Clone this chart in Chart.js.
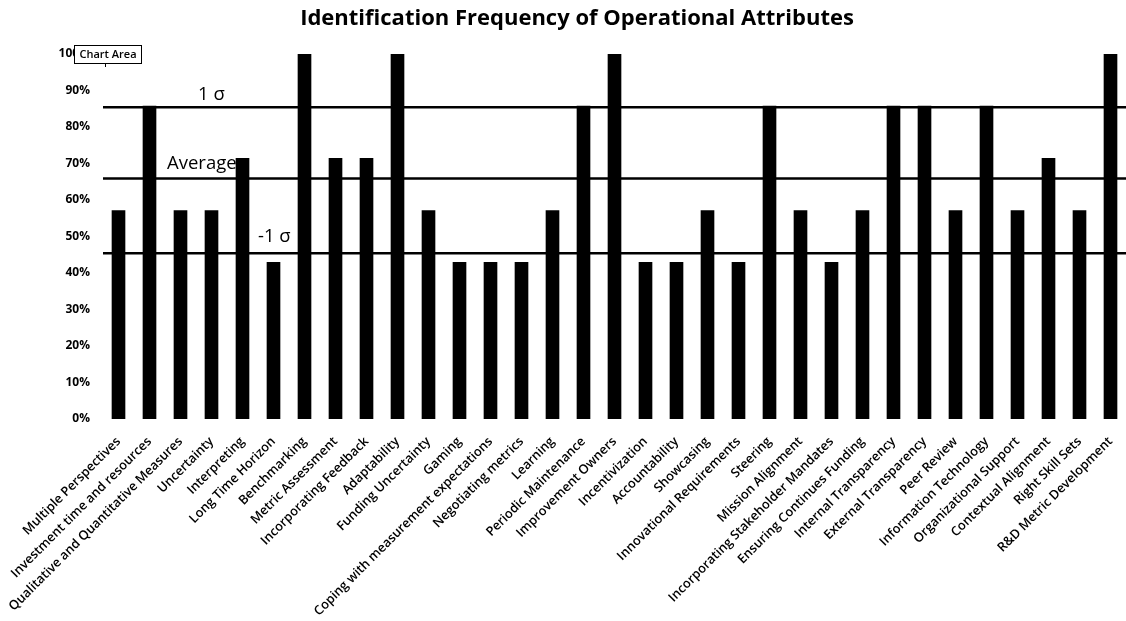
<!DOCTYPE html>
<html>
<head>
<meta charset="utf-8">
<title>Identification Frequency of Operational Attributes</title>
<script src="https://cdn.jsdelivr.net/npm/chart.js@4.4.1/dist/chart.umd.min.js"></script>
<style>
    html, body { margin: 0; padding: 0; background: #fff; }
    #wrap { width: 1126px; height: 621px; }
</style>
</head>
<body>
<div id="wrap"><canvas id="freqChart"></canvas></div>
<script>
// Identification frequency chart

const attributes = [
    'Multiple Perspectives', 'Investment time and resources', 'Qualitative and Quantitative Measures',
    'Uncertainty', 'Interpreting', 'Long Time Horizon', 'Benchmarking', 'Metric Assessment',
    'Incorporating Feedback', 'Adaptability', 'Funding Uncertainty', 'Gaming',
    'Coping with measurement expectations', 'Negotiating metrics', 'Learning', 'Periodic Maintenance',
    'Improvement Owners', 'Incentivization', 'Accountability', 'Showcasing',
    'Innovational Requirements', 'Steering', 'Mission Alignment', 'Incorporating Stakeholder Mandates',
    'Ensuring Continues Funding', 'Internal Transparency', 'External Transparency', 'Peer Review',
    'Information Technology', 'Organizational Support', 'Contextual Alignment', 'Right Skill Sets',
    'R&D Metric Development'
];

// percent of sources identifying each attribute
const frequency = [
    57.1, 85.7, 57.1, 57.1, 71.4, 42.9, 100, 71.4,
    71.4, 100, 57.1, 42.9, 42.9, 42.9, 57.1, 85.7,
    100, 42.9, 42.9, 57.1, 42.9, 85.7, 57.1, 42.9,
    57.1, 85.7, 85.7, 57.1, 85.7, 57.1, 71.4, 57.1,
    100
];

const yTicks = [0, 10, 20, 30, 40, 50, 60, 70, 80, 90, 100];

const refLabels = ['1 σ', 'Average', '-1 σ'];
const refValues = [85.4, 65.9, 45.4];

// label placement for the reference lines (x from plot left, y from line)
const refLabelStyle = [
    { dx: 95, dy: -7 },
    { dx: 64, dy: -9 },
    { dx: 155, dy: -11 }
];

const refLinesPlugin = {
    id: 'refLines',
    afterDatasetsDraw(chart) {
        const ctx = chart.ctx;
        const area = chart.chartArea;
        const yScale = chart.scales.y;
        ctx.save();
        ctx.strokeStyle = '#000';
        ctx.lineWidth = 2.5;
        ctx.fillStyle = '#000';
        ctx.font = '18.5px "Open Sans"';
        ctx.textBaseline = 'alphabetic';
        ctx.textAlign = 'left';
        refValues.forEach((v, i) => {
            const y = yScale.getPixelForValue(v);
            ctx.beginPath();
            ctx.moveTo(area.left, y);
            ctx.lineTo(area.right, y);
            ctx.stroke();
            ctx.fillText(refLabels[i], area.left + refLabelStyle[i].dx, y + refLabelStyle[i].dy);
        });
        ctx.restore();
    }
};

// the little "Chart Area" hover tag left in the screenshot
const chartAreaTag = {
    id: 'chartAreaTag',
    afterDraw(chart) {
        const ctx = chart.ctx;
        ctx.save();
        ctx.fillStyle = '#fff';
        ctx.fillRect(74, 45, 68, 19);
        ctx.strokeStyle = '#000';
        ctx.lineWidth = 1;
        ctx.strokeRect(74.5, 45.5, 67, 18);
        ctx.beginPath();
        ctx.moveTo(105.5, 64);
        ctx.lineTo(105.5, 67);
        ctx.stroke();
        ctx.fillStyle = '#000';
        ctx.font = '600 11px "Open Sans"';
        ctx.textAlign = 'center';
        ctx.textBaseline = 'middle';
        ctx.fillText('Chart Area', 108, 55);
        ctx.restore();
    }
};

document.addEventListener('DOMContentLoaded', function () {
    renderChart();
});

function renderChart() {
    const ctx = document.getElementById('freqChart').getContext('2d');

    new Chart(ctx, {
        type: 'bar',
        data: {
            labels: attributes,
            datasets: [{
                label: 'Identification Frequency',
                data: frequency,
                backgroundColor: '#000',
                borderWidth: 0,
                barThickness: 13
            }]
        },
        options: {
            responsive: true,
            maintainAspectRatio: false,
            animation: false,
            layout: {
                padding: { left: 28, right: 0, top: 0, bottom: 2 }
            },
            plugins: {
                legend: { display: false },
                tooltip: { enabled: false },
                title: {
                    display: true,
                    text: 'Identification Frequency of Operational Attributes',
                    color: '#000',
                    font: { family: '"Open Sans"', size: 22, weight: 'bold', lineHeight: 1.3 },
                    padding: { top: 4, bottom: 21.4 }
                }
            },
            scales: {
                x: {
                    grid: { display: false, drawTicks: false },
                    border: { display: false },
                    ticks: {
                        autoSkip: false,
                        minRotation: 45,
                        maxRotation: 45,
                        padding: 15,
                        color: '#000',
                        font: { family: '"Open Sans"', size: 12.8, weight: '600' }
                    },
                    afterFit: function (scale) {
                        scale.height = 200;
                        scale.paddingLeft = 0;
                        scale.paddingRight = 0;
                    }
                },
                y: {
                    min: 0,
                    max: 100,
                    grid: { display: false, drawTicks: false },
                    border: { display: false },
                    afterBuildTicks: function (scale) {
                        scale.ticks = yTicks.map(v => ({ value: v }));
                    },
                    ticks: {
                        padding: 13,
                        color: '#000',
                        font: { family: '"Open Sans"', size: 12, weight: 'bold' },
                        callback: function (value) {
                            return value + '%';
                        }
                    },
                    afterFit: function (scale) {
                        scale.width = 75;
                    }
                }
            }
        },
        plugins: [refLinesPlugin, chartAreaTag]
    });
}
</script>
</body>
</html>
